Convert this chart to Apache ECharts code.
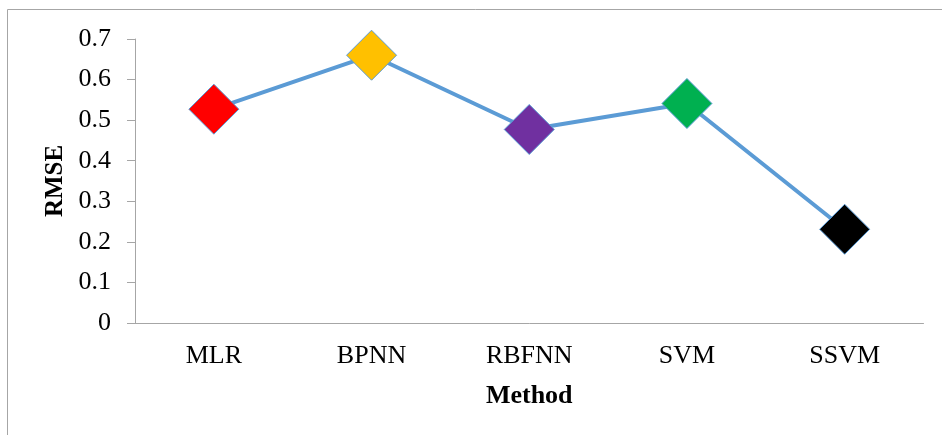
<!DOCTYPE html>
<html>
<head>
<meta charset="utf-8">
<script src="https://cdn.jsdelivr.net/npm/echarts@6/dist/echarts.min.js"></script>
<style>
  html, body { margin: 0; padding: 0; background: #fff; }
  #chart { width: 942px; height: 435px; }
</style>
</head>
<body>
<div id="chart"></div>
<script>
// Methods compared and their RMSE
const methods = ['MLR', 'BPNN', 'RBFNN', 'SVM', 'SSVM'];
const rmse = [0.527, 0.66, 0.477, 0.541, 0.231];
const markerColors = ['#ff0000', '#ffc000', '#7030a0', '#00b050', '#000000'];

const FONT = '"Liberation Serif", "Times New Roman", serif';
const AXIS_GRAY = '#a6a6a6';

const chart = echarts.init(document.getElementById('chart'), null, { renderer: 'canvas' });

chart.setOption({
  backgroundColor: '#ffffff',
  animation: false,
  graphic: [{
    type: 'rect',
    shape: { x: 7.5, y: 9.5, width: 960, height: 460 },
    style: { fill: 'none', stroke: AXIS_GRAY, lineWidth: 1 },
    silent: true
  }],
  grid: { left: 135, right: 18.5, top: 39, bottom: 112 },
  xAxis: {
    type: 'category',
    data: methods,
    boundaryGap: true,
    name: 'Method',
    nameLocation: 'middle',
    nameGap: 60,
    nameTextStyle: { fontFamily: FONT, fontSize: 26, fontWeight: 'bold', color: '#000' },
    axisLine: { lineStyle: { color: AXIS_GRAY, width: 1 } },
    axisTick: { show: false },
    axisLabel: { fontFamily: FONT, fontSize: 26, color: '#000', margin: 20 },
    splitLine: { show: false }
  },
  yAxis: {
    type: 'value',
    min: 0,
    max: 0.7,
    interval: 0.1,
    name: 'RMSE',
    nameLocation: 'middle',
    nameRotate: 90,
    nameGap: 63,
    nameTextStyle: { fontFamily: FONT, fontSize: 25, fontWeight: 'bold', color: '#000' },
    axisLine: { show: true, lineStyle: { color: AXIS_GRAY, width: 1 } },
    axisTick: { show: true, length: 8, lineStyle: { color: AXIS_GRAY } },
    axisLabel: {
      fontFamily: FONT, fontSize: 26, color: '#000', margin: 24,
      formatter: v => (v === 0 ? '0' : v.toFixed(1))
    },
    splitLine: { show: false }
  },
  series: [{
    type: 'line',
    data: rmse.map((v, i) => ({
      value: v,
      itemStyle: { color: markerColors[i], borderColor: '#5b9bd5', borderWidth: 1 }
    })),
    symbol: 'diamond',
    symbolSize: 50,
    lineStyle: { color: '#5b9bd5', width: 4 },
    z: 2
  }]
});
</script>
</body>
</html>
